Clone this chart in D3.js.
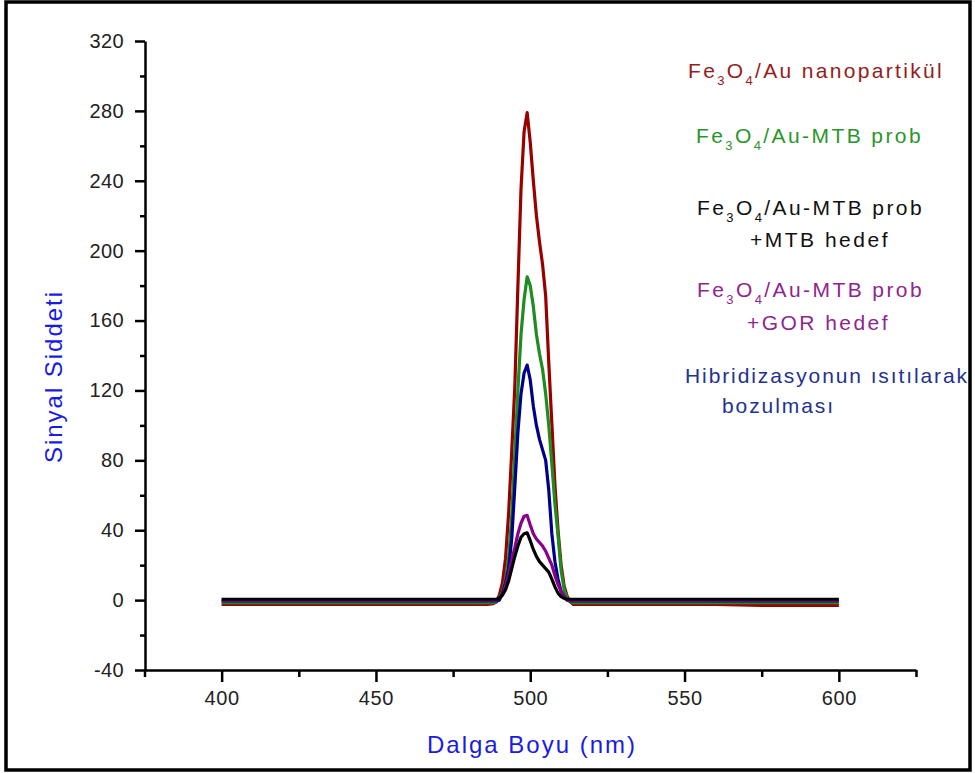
<!DOCTYPE html>
<html>
<head>
<meta charset="utf-8">
<script src="https://cdn.jsdelivr.net/npm/d3@7"></script>
<style>
  html, body { margin: 0; padding: 0; background: #fff; }
  svg { display: block; }
  text { font-family: "Liberation Sans", Arial, sans-serif; }
</style>
</head>
<body>
<svg id="chart" width="975" height="773"></svg>
<script>
// Wavelength grid (nm) shared by every spectrum
const wavelengths = [400, 420, 440, 460, 480, 486, 488, 489, 490, 491, 492, 493, 494, 495, 496, 497, 498, 499,
  500, 501, 502, 503, 504, 505, 506, 507, 508, 509, 510, 511, 512, 513, 514, 520, 540, 560, 575, 580, 600];

// Signal intensity for each sample
const nanoparticle = [-2.5, -2.5, -2.5, -2.5, -2.5, -2.5, -2, -1, 3, 10, 24, 50, 85, 122, 180, 235, 268, 279,
  262, 240, 220, 205, 192, 174, 136, 101, 66, 40, 20, 8, 2, -1, -2.5, -2.5, -2.5, -2.5, -3, -3, -3];
const probe = [-1.5, -1.5, -1.5, -1.5, -1.5, -1.5, -1.5, -1, 1, 5, 12, 25, 48, 85, 120, 152, 172, 185,
  180, 168, 152, 141, 132, 118, 100, 78, 55, 37, 17, 6, 1, -1, -1.5, -1.5, -1.5, -1.5, -1.5, -1.5, -1.5];
const heated = [-0.5, -0.5, -0.5, -0.5, -0.5, -0.5, -0.5, -0.5, 0, 4, 10, 18, 35, 65, 96, 118, 130, 134.5,
  126, 111, 100, 92, 86, 80, 63, 38, 22, 12, 5, 2, 0, -0.5, -0.5, -0.5, -0.5, -0.5, -0.5, -0.5, -0.5];
const probeGor = [0, 0, 0, 0, 0, 0, 0, 0, 1, 3, 8, 15, 23, 30, 38, 44, 48, 48.5,
  43, 38, 35, 33, 31, 28, 24, 20, 14, 9, 5, 2, 0, 0, 0, 0, 0, 0, 0, 0, 0];
const probeMtb = [0.5, 0.5, 0.5, 0.5, 0.5, 0.5, 0.5, 0.5, 1, 3, 6, 11, 18, 25, 31, 36, 38, 38.5,
  34, 29, 25, 22, 20, 18, 16, 12, 7.6, 4, 2, 1, 0.5, 0.5, 0.5, 0.5, 0.5, 0.5, 0.5, 0.5, 0.5];

// Axis ticks
const xMajorTicks = [400, 450, 500, 550, 600];
const xMinorTicks = [375, 425, 475, 525, 575, 625];
const yMajorTicks = [-40, 0, 40, 80, 120, 160, 200, 240, 280, 320];
const yMinorTicks = [-20, 20, 60, 100, 140, 180, 220, 260, 300];

// Legend entries: text pieces, 1 marks a subscript
const legendLines = [
  { parts: [["Fe", 0], ["3", 1], ["O", 0], ["4", 1], ["/Au nanopartikül", 0]], color: "#961c1c", x: 688, y: 78, w: 256 },
  { parts: [["Fe", 0], ["3", 1], ["O", 0], ["4", 1], ["/Au-MTB prob", 0]], color: "#2a962a", x: 696, y: 143, w: 227 },
  { parts: [["Fe", 0], ["3", 1], ["O", 0], ["4", 1], ["/Au-MTB prob", 0]], color: "#111111", x: 697, y: 215, w: 227 },
  { parts: [["+MTB hedef", 0]], color: "#111111", x: 750, y: 247, w: 140 },
  { parts: [["Fe", 0], ["3", 1], ["O", 0], ["4", 1], ["/Au-MTB prob", 0]], color: "#8e268e", x: 697, y: 297, w: 227 },
  { parts: [["+GOR hedef", 0]], color: "#8e268e", x: 747, y: 330, w: 143 },
  { parts: [["Hibridizasyonun ısıtılarak", 0]], color: "#22328e", x: 685, y: 383, w: 284 },
  { parts: [["bozulması", 0]], color: "#22328e", x: 722, y: 413, w: 113 }
];

const series = [
  { values: nanoparticle, color: "#990000" },
  { values: probe, color: "#1e8c1e" },
  { values: heated, color: "#00008b" },
  { values: probeGor, color: "#8b008b" },
  { values: probeMtb, color: "#000000" }
];

const svg = d3.select("#chart");

// Spread a text's letters so it fills the given width
function fitWidth(sel, width) {
  const node = sel.node();
  const n = node.getNumberOfChars();
  const len = node.getComputedTextLength();
  if (n > 1) sel.attr("letter-spacing", ((width - len) / n) + "px");
}

// Outer frame
svg.append("rect")
  .attr("x", 6).attr("y", 2).attr("width", 964).attr("height", 768)
  .attr("fill", "none").attr("stroke", "#000").attr("stroke-width", 3.5);

const x = d3.scaleLinear().domain([375, 625]).range([144.5, 916]);
const y = d3.scaleLinear().domain([-40, 320]).range([670, 41]);

const axisColor = "#000";
const plain = d => String(d);

// X axis: major ticks with labels, minor ticks without
svg.append("g").attr("transform", "translate(0,670)")
  .call(d3.axisBottom(x).tickValues(xMajorTicks).tickFormat(plain).tickSize(12).tickSizeOuter(0).tickPadding(9))
  .call(g => g.select(".domain").attr("stroke-width", 2.5).attr("stroke", axisColor))
  .call(g => g.selectAll(".tick line").attr("stroke-width", 2.5).attr("stroke", axisColor))
  .call(g => g.selectAll(".tick text")
    .attr("font-size", 20).attr("fill", "#222").attr("letter-spacing", "0.6px")
    .attr("font-family", "Liberation Sans, Arial, sans-serif"));
svg.append("g").attr("transform", "translate(0,670)")
  .call(d3.axisBottom(x).tickValues(xMinorTicks).tickSize(7).tickFormat(""))
  .call(g => g.select(".domain").remove())
  .call(g => g.selectAll(".tick line").attr("stroke-width", 2.5).attr("stroke", axisColor));

// Y axis
svg.append("g").attr("transform", "translate(145,0)")
  .call(d3.axisLeft(y).tickValues(yMajorTicks).tickFormat(plain).tickSize(10).tickSizeOuter(0).tickPadding(11))
  .call(g => g.select(".domain").attr("stroke-width", 2.5).attr("stroke", axisColor))
  .call(g => g.selectAll(".tick line").attr("stroke-width", 2.5).attr("stroke", axisColor))
  .call(g => g.selectAll(".tick text")
    .attr("font-size", 20).attr("fill", "#222").attr("letter-spacing", "0.4px")
    .attr("font-family", "Liberation Sans, Arial, sans-serif"));
svg.append("g").attr("transform", "translate(145,0)")
  .call(d3.axisLeft(y).tickValues(yMinorTicks).tickSize(5).tickFormat(""))
  .call(g => g.select(".domain").remove())
  .call(g => g.selectAll(".tick line").attr("stroke-width", 2.5).attr("stroke", axisColor));

// Spectra
const line = d3.line()
  .x((d, i) => x(wavelengths[i]))
  .y(d => y(d));

svg.append("g").selectAll("path")
  .data(series)
  .join("path")
  .attr("d", s => line(s.values))
  .attr("fill", "none")
  .attr("stroke", s => s.color)
  .attr("stroke-width", 3.2)
  .attr("stroke-linejoin", "round");

// Axis titles
svg.append("text")
  .attr("x", 427).attr("y", 753)
  .attr("font-size", 24)
  .attr("fill", "#1a1ae6")
  .text("Dalga Boyu (nm)")
  .call(fitWidth, 210);

svg.append("text")
  .attr("transform", "translate(62,463) rotate(-90)")
  .attr("font-size", 24)
  .attr("fill", "#1a1ae6")
  .text("Sinyal Siddeti")
  .call(fitWidth, 173);

// Legend labels with subscripts
const legend = svg.append("g");
legendLines.forEach(l => {
  const t = legend.append("text")
    .attr("x", l.x).attr("y", l.y)
    .attr("font-size", 21)
    .attr("fill", l.color);
  let lowered = false;
  l.parts.forEach(([str, sub]) => {
    const shift = sub ? (lowered ? 0 : 7) : (lowered ? -7 : 0);
    lowered = !!sub;
    t.append("tspan")
      .attr("font-size", sub ? 13 : 21)
      .attr("dy", shift)
      .text(str);
  });
  fitWidth(t, l.w);
});
</script>
</body>
</html>
